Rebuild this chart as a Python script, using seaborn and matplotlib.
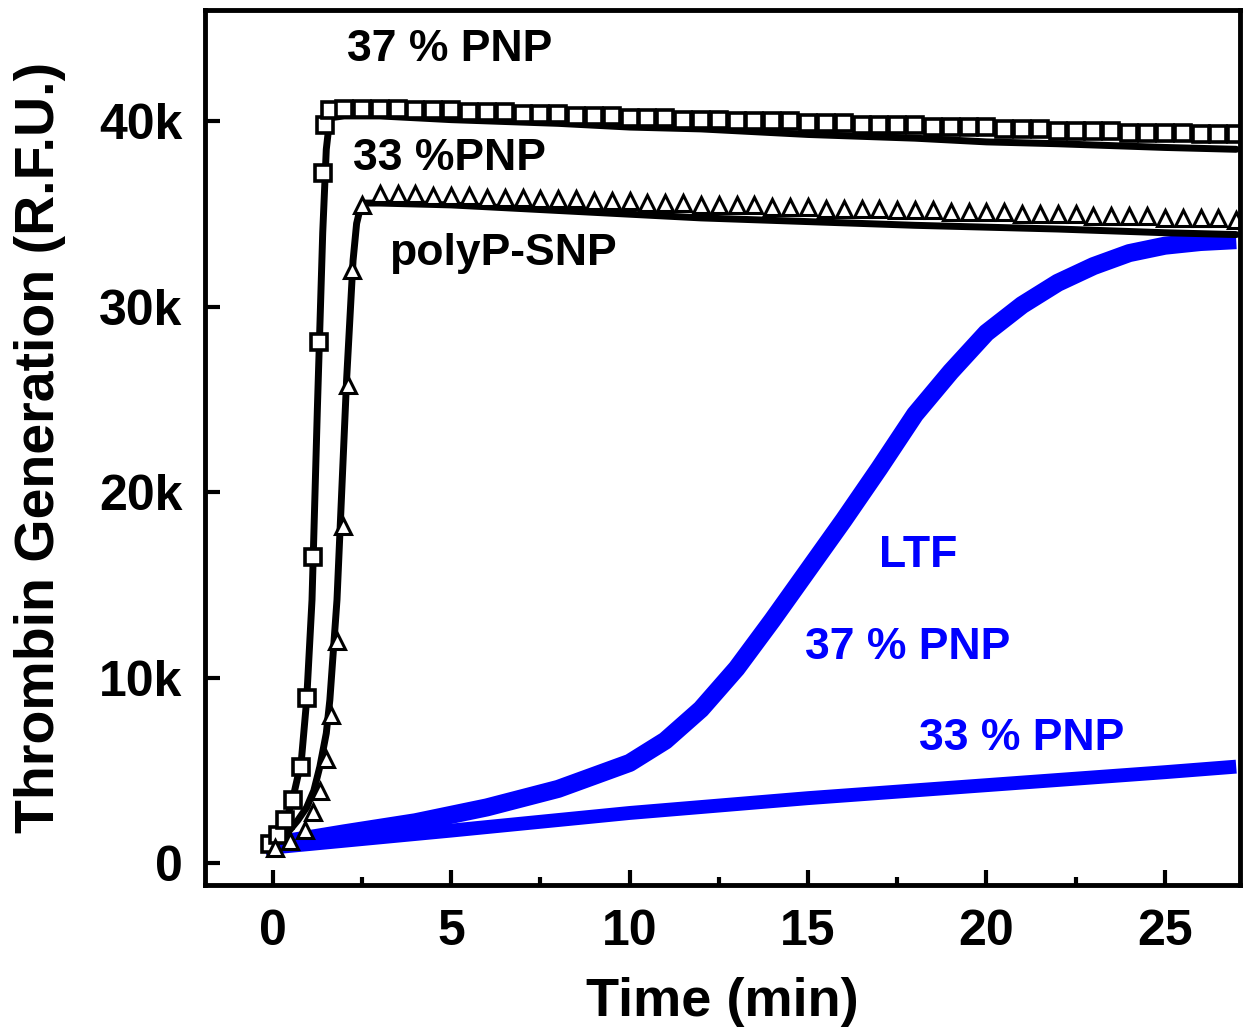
import numpy as np
import matplotlib
matplotlib.use("Agg")
import matplotlib.pyplot as plt
import seaborn as sns
from matplotlib.ticker import FuncFormatter, MultipleLocator

# values in thousands of R.F.U., time in min
snp37_line_t = [-0.2, 0.1, 0.4, 0.6, 0.8, 0.95, 1.1, 1.25, 1.4, 1.5, 1.6, 2, 3, 5, 8, 10, 12, 15, 18, 20, 22, 25, 27]
snp37_line_v = [1.1, 1.3, 2.4, 3.8, 5.5, 8.8, 14.2, 24.5, 34.0, 38.5, 40.2, 40.3, 40.3, 40.1, 39.9, 39.7, 39.6, 39.3, 39.1, 38.9, 38.8, 38.6, 38.5]

snp37_rise_t = [-0.08, 0.14, 0.34, 0.56, 0.78, 0.95, 1.12, 1.29, 1.40, 1.46, 1.6]
snp37_rise_v = [1.0, 1.5, 2.3, 3.4, 5.2, 8.9, 16.5, 28.1, 37.2, 39.8, 40.6]
snp37_plat_t = np.arange(2.0, 27.01, 0.5)
snp37_plat_v = [40.7, 40.7, 40.7, 40.7, 40.6, 40.6, 40.6, 40.5, 40.5, 40.5,
                40.4, 40.4, 40.4, 40.3, 40.3, 40.3, 40.2, 40.2, 40.2, 40.1,
                40.1, 40.1, 40.0, 40.0, 40.0, 40.0, 39.9, 39.9, 39.9, 39.8,
                39.8, 39.8, 39.8, 39.7, 39.7, 39.7, 39.7, 39.6, 39.6, 39.6,
                39.5, 39.5, 39.5, 39.5, 39.4, 39.4, 39.4, 39.4, 39.3, 39.3,
                39.3]

snp33_line_t = [0.0, 0.4, 0.7, 0.95, 1.15, 1.32, 1.5, 1.6, 1.8, 2.07, 2.25, 2.35, 2.45, 2.55, 3, 5, 8, 10, 12, 15, 18, 20, 22, 25, 27]
snp33_line_v = [0.9, 1.6, 2.3, 3.0, 3.9, 5.2, 7.0, 8.8, 14.2, 26.1, 32.5, 34.5, 35.3, 35.6, 35.6, 35.5, 35.2, 35.0, 34.8, 34.6, 34.4, 34.3, 34.2, 34.0, 33.9]

snp33_rise_t = [0.06, 0.48, 0.9, 1.12, 1.32, 1.48, 1.62, 1.79, 1.96, 2.10, 2.21, 2.49]
snp33_rise_v = [0.8, 1.2, 1.8, 2.75, 3.9, 5.6, 8.0, 12.0, 18.2, 25.8, 32.0, 35.5]
snp33_plat_t = np.arange(3.0, 27.01, 0.5)
snp33_plat_v = [36.1, 36.1, 36.1, 36.0, 36.0, 36.0, 35.9, 35.9, 35.9, 35.8,
                35.8, 35.8, 35.7, 35.7, 35.7, 35.6, 35.6, 35.6, 35.5, 35.5,
                35.5, 35.5, 35.4, 35.4, 35.4, 35.3, 35.3, 35.3, 35.3, 35.2,
                35.2, 35.2, 35.1, 35.1, 35.1, 35.1, 35.0, 35.0, 35.0, 35.0,
                34.9, 34.9, 34.9, 34.9, 34.8, 34.8, 34.8, 34.8, 34.7]

ltf37_t = [-0.2, 2, 4, 5, 6, 8, 10, 11, 12, 13, 14, 15, 16, 17, 18, 19, 20, 21, 22, 23, 24, 25, 26, 27]
ltf37_v = [0.9, 1.6, 2.2, 2.6, 3.0, 4.0, 5.4, 6.6, 8.3, 10.5, 13.1, 15.8, 18.5, 21.3, 24.2, 26.5, 28.6, 30.1, 31.3, 32.2, 32.9, 33.3, 33.5, 33.6]

ltf33_t = [-0.2, 5, 10, 15, 20, 25, 27]
ltf33_v = [0.8, 1.75, 2.7, 3.5, 4.2, 4.9, 5.2]

labels_black = ["37 % PNP", "33 %PNP", "polyP-SNP"]
labels_blue = ["LTF", "37 % PNP", "33 % PNP"]

sns.set_style("ticks")
plt.rcParams["font.family"] = ["Liberation Sans", "DejaVu Sans"]
plt.rcParams["font.weight"] = "bold"
for k in ["text.color", "axes.labelcolor", "xtick.color", "ytick.color", "axes.edgecolor"]:
    plt.rcParams[k] = "black"

fig = plt.figure(figsize=(12.46, 10.27), dpi=100, facecolor="white")
ax = fig.add_axes([0.1645, 0.138, 0.8305, 0.852])

blue = "#0000ff"
sns.lineplot(x=ltf33_t, y=ltf33_v, ax=ax, color=blue, lw=10, sort=False,
             solid_capstyle="butt", solid_joinstyle="round")
sns.lineplot(x=ltf37_t, y=ltf37_v, ax=ax, color=blue, lw=13, sort=False,
             solid_capstyle="butt", solid_joinstyle="round")

sns.lineplot(x=snp37_line_t, y=snp37_line_v, ax=ax, color="black", lw=5, sort=False)
sns.lineplot(x=snp33_line_t, y=snp33_line_v, ax=ax, color="black", lw=5, sort=False)

sq_t = list(snp37_rise_t) + list(snp37_plat_t)
sq_v = list(snp37_rise_v) + list(snp37_plat_v)
tr_t = list(snp33_rise_t) + list(snp33_plat_t)
tr_v = list(snp33_rise_v) + list(snp33_plat_v)
sns.lineplot(x=sq_t, y=sq_v, ax=ax, sort=False, linestyle="none", marker="s", ms=11,
             markerfacecolor="white", markeredgecolor="black", markeredgewidth=2.6)
sns.lineplot(x=tr_t, y=tr_v, ax=ax, sort=False, linestyle="none", marker="^", ms=12,
             markerfacecolor="white", markeredgecolor="black", markeredgewidth=2.2)

ax.set_xlim(-1.9, 27.1)
ax.set_ylim(-1.2, 46.0)
ax.xaxis.set_major_locator(MultipleLocator(5))
ax.xaxis.set_minor_locator(MultipleLocator(2.5))
ax.yaxis.set_major_locator(MultipleLocator(10))
ax.yaxis.set_major_formatter(FuncFormatter(lambda v, p: "0" if v == 0 else f"{v:g}k"))

ax.tick_params(axis="both", which="major", direction="in", length=11, width=3,
               labelsize=36)
ax.tick_params(axis="x", which="major", pad=17)
ax.tick_params(axis="y", which="major", pad=16)
ax.tick_params(axis="x", which="minor", direction="in", length=6, width=3)
for s in ax.spines.values():
    s.set_linewidth(3.5)
    s.set_visible(True)

ax.set_xlabel("Time (min)", fontsize=39, fontweight="bold", labelpad=16)
ax.set_ylabel("Thrombin Generation (R.F.U.)", fontsize=40, fontweight="bold", labelpad=24)

pos_black = [(4.96, 43.9), (4.96, 38.0), (6.44, 32.9)]
pos_blue = [(18.1, 16.6), (17.8, 11.6), (21.0, 6.7)]
for txt, (x, y) in zip(labels_black, pos_black):
    ax.text(x, y, txt, fontsize=32, fontweight="bold", color="black", ha="center", va="center")
for txt, (x, y) in zip(labels_blue, pos_blue):
    ax.text(x, y, txt, fontsize=32, fontweight="bold", color=blue, ha="center", va="center")

plt.savefig("out.png", dpi=100, facecolor="white")
